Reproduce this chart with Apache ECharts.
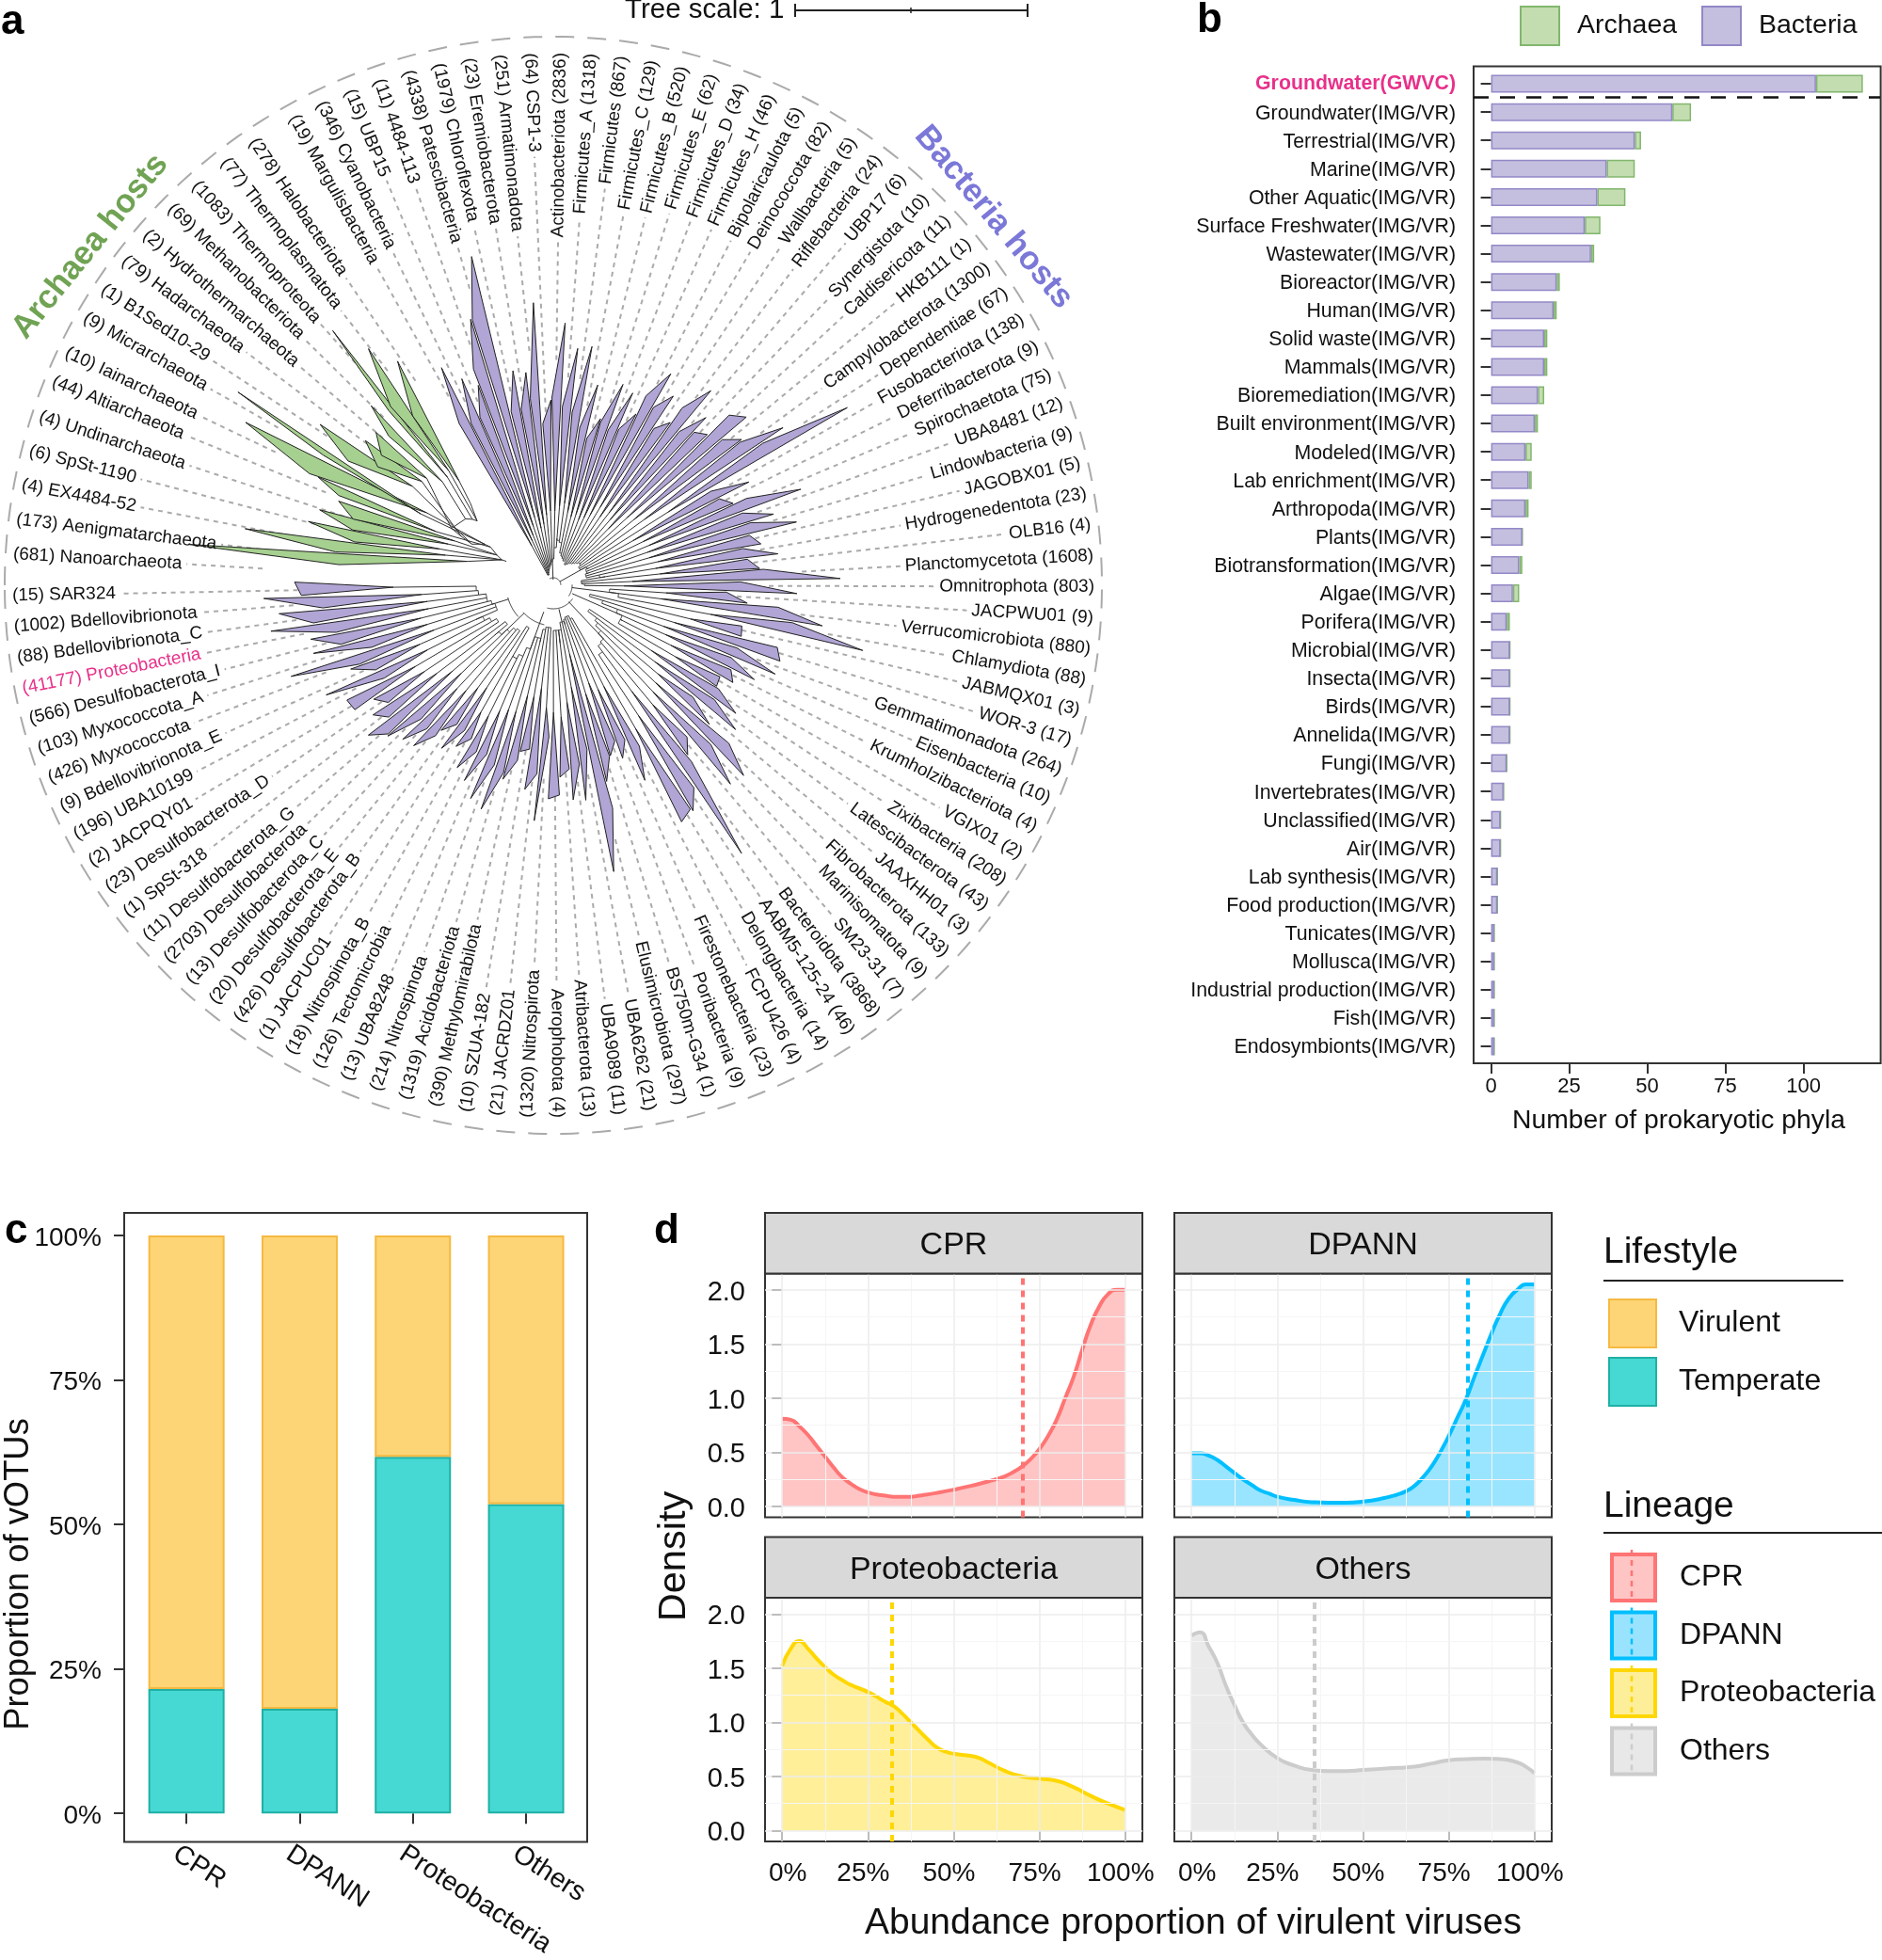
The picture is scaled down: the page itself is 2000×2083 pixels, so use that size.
<!DOCTYPE html>
<html><head><meta charset="utf-8"><style>html,body{margin:0;padding:0;background:#fff}#c{width:2000px;height:2083px}</style>
<script src="https://cdn.jsdelivr.net/npm/echarts@6/dist/echarts.min.js"></script></head><body><div id="c"></div>
<script>
// ---------- panel a: phyla, clockwise from the left edge ----------
const archaeaNames=['Nanoarchaeota','Aenigmatarchaeota','EX4484-52','SpSt-1190','Undinarchaeota','Altiarchaeota','Iainarchaeota','Micrarchaeota','B1Sed10-29','Hadarchaeota','Hydrothermarchaeota','Methanobacteriota','Thermoproteota','Thermoplasmatota','Halobacteriota'];
const archaeaCounts=[681,173,4,6,4,44,10,9,1,79,2,69,1083,77,278];
const archaeaLeafAngle=[3.3,7,10.7,14.4,18.2,22.2,25.6,29.8,33.4,37.2,40.8,44.7,48.3,52.3,56];
const archaeaTipR=[390,333,269,261,245,275,370,393,301,252,249,272,358,319,290];
const archaeaTipA=[6.4,10.4,14.6,17.9,21.4,24.7,27.9,31.5,34.6,37.6,40.8,44.6,49.1,52,55.2];
const archaeaShoulderR=[229,234,216,221,224,247,285,281,255,225,229,236,255,257,234];
const archaeaShoulderA=[5.5,8.7,12.3,15.4,18.3,22.7,24.6,29.5,31.2,34,37.1,42.2,46.7,47.7,50.3];
const archaeaApexR=[95,119,127,120,115,137,155,160,183,178,176,161,161,165,149];
const archaeaApexA=[15.5,15.6,17.7,21.4,24.2,24.6,29.8,28.3,35.1,38.3,40.2,43,45.6,47.6,47.9];
const archaeaNodeR=[61,61,61,68,68,78,85,85,97,111,124,117,111,106,124];
const archaeaNodeA=[26.3,26.3,26.3,28.2,28.2,31.3,30.9,30.9,26.8,28,29.2,37.1,39.2,40.2,44.7];
const bacteriaNames=['Margulisbacteria','Cyanobacteria','UBP15','4484-113','Patescibacteria','Chloroflexota','Eremiobacterota','Armatimonadota','CSP1-3','Actinobacteriota',
'Firmicutes_A','Firmicutes','Firmicutes_C','Firmicutes_B','Firmicutes_E','Firmicutes_D','Firmicutes_H','Bipolaricaulota','Deinococcota','Wallbacteria',
'Riflebacteria','UBP17','Synergistota','Caldisericota','HKB111','Campylobacterota','Dependentiae','Fusobacteriota','Deferribacterota','Spirochaetota',
'UBA8481','Lindowbacteria','JAGOBX01','Hydrogenedentota','OLB16','Planctomycetota','Omnitrophota','JACPWU01','Verrucomicrobiota','Chlamydiota',
'JABMQX01','WOR-3','Gemmatimonadota','Eisenbacteria','Krumholzibacteriota','VGIX01','Zixibacteria','Latescibacterota','JAAXHH01','Fibrobacterota',
'Marinisomatota','SM23-31','Bacteroidota','AABM5-125-24','Delongbacteria','FCPU426','Firestonebacteria','Poribacteria','BS750m-G34','Elusimicrobiota',
'UBA6262','UBA9089','Atribacterota','Aerophobota','Nitrospirota','JACRDZ01','SZUA-182','Methylomirabilota','Acidobacteriota','Nitrospinota',
'UBA8248','Tectomicrobia','Nitrospinota_B','JACPUC01','Desulfobacterota_B','Desulfobacterota_E','Desulfobacterota_C','Desulfobacterota','Desulfobacterota_G','SpSt-318',
'Desulfobacterota_D','JACPQY01','UBA10199','Bdellovibrionota_E','Myxococcota','Myxococcota_A','Desulfobacterota_I','Proteobacteria','Bdellovibrionota_C','Bdellovibrionota','SAR324'];
const bacteriaCounts=[19,346,15,11,4338,1979,23,251,64,2836,
1318,867,129,520,62,34,46,5,82,5,
24,6,10,11,1,1300,67,138,9,75,
12,9,5,23,4,1608,803,9,880,88,
3,17,264,10,4,2,208,43,3,133,
9,7,3868,46,14,4,23,9,1,297,
21,11,13,4,1320,21,10,390,1319,214,
13,126,18,1,426,20,13,2703,11,1,
23,2,196,9,426,103,566,41177,88,1002,15];
const bacteriaTipR=[260,240,227,296,360,232,228,301,197,279,
253,257,218,184,226,221,202,257,238,213,
266,241,229,272,253,296,365,235,210,282,
246,267,225,241,220,305,259,207,289,336,
207,254,254,236,217,204,237,247,222,286,
283,230,348,282,286,229,198,191,216,311,
231,229,204,227,251,219,180,213,250,243,
228,219,200,210,195,226,229,238,253,236,
226,251,268,233,295,265,264,304,293,308,275];
const bacteriaShoulderR=[199,193,195,245,295,190,190,200,172,200,
190,185,170,160,180,175,180,224,217,198,
233,211,221,260,237,250,269,195,199,225,
215,220,215,205,208,224,199,184,240,257,
205,247,206,204,209,202,207,210,190,251,
238,215,238,262,279,194,181,178,191,245,
178,192,196,223,161,201,176,190,206,201,
193,195,185,181,180,203,203,200,236,224,
215,249,205,209,222,204,234,236,258,246,268];
const bacteriaApexR=[48,52,57,66,75,62,66,75,79,79,
84,88,79,75,79,75,79,84,97,88,
97,92,84,106,110,119,145,97,106,110,
106,106,114,110,114,84,75,120,115,170,
150,135,125,130,140,150,125,135,145,150,
155,165,140,165,175,120,120,110,120,75,
110,125,140,135,130,110,120,120,140,140,
145,155,155,130,135,145,150,135,140,155,
165,170,150,155,135,140,145,135,135,140,170];
const bacteriaNodeR=[12,12,14,16,18,20,22,25,28,40,
50,48,46,35,32,30,28,25,27,29,
30,32,34,36,38,36,33,40,42,38,
40,36,50,56,30,33,40,60,70,88,
40,55,73,80,82,80,46,58,62,70,
78,80,88,97,95,40,36,38,44,40,
48,62,48,55,71,45,48,62,58,72,
82,87,88,52,60,62,68,76,82,64,
70,76,82,90,65,68,72,72,80,82,96];
// [first clade, last clade, radius of the trunk root] for each bacterial sub-tree
const bacteriaClades=[[0,16,6],[17,36,8],[37,39,20],[40,45,22],[46,53,24],[54,63,26],[64,73,30],[74,79,43],[80,90,50]];
const coreArcs=[[8,60,178],[20,178,215],[25,215,285],[43,283,318],[50,318,345]];
const bacteriaFirstLeaf=61, bacteriaLeafStep=3.31;
// ---------- panel b ----------
const habitats=['Groundwater(GWVC)','Groundwater(IMG/VR)','Terrestrial(IMG/VR)','Marine(IMG/VR)','Other Aquatic(IMG/VR)','Surface Freshwater(IMG/VR)','Wastewater(IMG/VR)','Bioreactor(IMG/VR)','Human(IMG/VR)','Solid waste(IMG/VR)','Mammals(IMG/VR)','Bioremediation(IMG/VR)','Built environment(IMG/VR)','Modeled(IMG/VR)','Lab enrichment(IMG/VR)','Arthropoda(IMG/VR)','Plants(IMG/VR)','Biotransformation(IMG/VR)','Algae(IMG/VR)','Porifera(IMG/VR)','Microbial(IMG/VR)','Insecta(IMG/VR)','Birds(IMG/VR)','Annelida(IMG/VR)','Fungi(IMG/VR)','Invertebrates(IMG/VR)','Unclassified(IMG/VR)','Air(IMG/VR)','Lab synthesis(IMG/VR)','Food production(IMG/VR)','Tunicates(IMG/VR)','Mollusca(IMG/VR)','Industrial production(IMG/VR)','Fish(IMG/VR)','Endosymbionts(IMG/VR)'];
const habitatBacteria=[104,58,46,37,34,30,32,21,20,17,17,15,14,11,12,11,10,9,7,5,6,6,6,6,5,4,3,3,2,2,1,1,1,1,1];
const habitatArchaea=[15,6,2,9,9,5,1,1,1,1,1,2,1,2,1,1,0,1,2,1,0,0,0,0,0,0,0,0,0,0,0,0,0,0,0];
const phylaTicks=[0,25,50,75,100];
// ---------- panel c ----------
const lineages=['CPR','DPANN','Proteobacteria','Others'];
const temperateShare=[21.5,18.1,61.7,53.5];
const virulentShare=[78.5,81.9,38.3,46.5];
// ---------- panel d ----------
const densityCPR=[[0,.81],[2.5,.8],[5,.74],[7.5,.66],[10,.56],[12.5,.46],[15,.36],[17.5,.27],[20,.21],[22.5,.16],[25,.13],[27.5,.11],[30,.1],[32.5,.09],[35,.09],[37.5,.09],[40,.1],[45,.125],[50,.155],[55,.19],[60,.23],[65,.28],[67.5,.32],[70,.37],[72.5,.44],[75,.53],[77.5,.65],[80,.8],[82.5,1],[85,1.2],[87.5,1.45],[90,1.68],[92.5,1.85],[95,1.96],[97.5,2],[100,2]];
const densityDPANN=[[0,.49],[2.5,.49],[5,.47],[7.5,.43],[10,.37],[12.5,.31],[15,.25],[17.5,.2],[20,.15],[22.5,.12],[25,.09],[30,.06],[35,.04],[40,.035],[45,.035],[50,.045],[55,.07],[60,.11],[62.5,.14],[65,.19],[67.5,.27],[70,.37],[72.5,.5],[75,.65],[77.5,.82],[80,.99],[82.5,1.2],[85,1.4],[87.5,1.6],[90,1.78],[92.5,1.92],[95,2],[97.5,2.05],[100,2.05]];
const densityProteo=[[0,1.52],[2.5,1.68],[5,1.75],[7.5,1.68],[10,1.59],[12.5,1.51],[15,1.44],[17.5,1.39],[20,1.345],[25,1.28],[30,1.19],[32.5,1.15],[35,1.08],[37.5,1],[40,.92],[42.5,.84],[45,.77],[47.5,.73],[50,.71],[55,.69],[57.5,.67],[60,.63],[65,.55],[70,.5],[75,.48],[80,.46],[85,.4],[90,.32],[95,.25],[100,.19]];
const densityOthers=[[0,1.8],[2.5,1.83],[5,1.7],[7.5,1.55],[10,1.34],[12.5,1.16],[15,1],[17.5,.89],[20,.8],[25,.67],[30,.6],[35,.56],[40,.55],[45,.55],[50,.56],[55,.57],[60,.58],[65,.59],[70,.62],[75,.65],[80,.66],[85,.665],[90,.66],[95,.63],[97.5,.59],[100,.53]];
const densityMeans=[70.2,80.4,32.1,35.7];
const percentTicks=[0,25,50,75,100], percentMinor=[12.5,37.5,62.5,87.5];
const densityTicks=[0,.5,1,1.5,2], densityMinor=[.25,.75,1.25,1.75];

// ---------- styling and layout ----------
const FONT='"Liberation Sans",Arial,sans-serif', INK='#111', AXIS='#333';
const PURPLE='#B1A5D5', GREEN='#A6D08F', PINK='#E8308A';
const C={x:588,y:622};
function txt(text,x,y,size,o){o=o||{};return {type:'text',x,y,rotation:(o.rot||0)*Math.PI/180,z:50,silent:true,
 style:{text,fontSize:size,fontFamily:FONT,fontWeight:o.w||'normal',fill:o.c||INK,align:o.a||'left',verticalAlign:'middle',textAlign:o.a||'left',textVerticalAlign:'middle'}};}
function rect(x,y,w,h,fill,stroke,lw,z){return {type:'rect',shape:{x,y,width:w,height:h},z:z==null?40:z,silent:true,style:{fill,stroke,lineWidth:lw}};}
function seg(x1,y1,x2,y2,c,lw,dash,z){return {type:'line',shape:{x1,y1,x2,y2},z:z==null?40:z,silent:true,style:{stroke:c,lineWidth:lw,lineDash:dash||null}};}

const ctx=document.createElement('canvas').getContext('2d');ctx.font='19px "Liberation Sans"';
const leaves=[];
archaeaNames.forEach((n,i)=>leaves.push({n,c:archaeaCounts[i],a:archaeaLeafAngle[i],tipR:archaeaTipR[i],tipA:archaeaTipA[i],shR:archaeaShoulderR[i],shA:archaeaShoulderA[i],apR:archaeaApexR[i],apA:archaeaApexA[i],noR:archaeaNodeR[i],noA:archaeaNodeA[i],col:GREEN}));
bacteriaNames.forEach((n,j)=>{const a=bacteriaFirstLeaf+bacteriaLeafStep*j;leaves.push({n,c:bacteriaCounts[j],a,tipR:bacteriaTipR[j],tipA:a+1.8,shR:bacteriaShoulderR[j],shA:a-1.2,apR:bacteriaApexR[j],apA:a+.4,noR:bacteriaNodeR[j],noA:a+.4,col:PURPLE});});
leaves.forEach(l=>{l.flip=l.a>=90&&l.a<=271;l.text=l.flip?`${l.n} (${l.c})`:`(${l.c}) ${l.n}`;
 const rad=l.a*Math.PI/180;l.labR=566+9*Math.abs(Math.cos(rad));l.w=ctx.measureText(l.text).width;});
const leafRows=leaves.map(l=>[l.tipR,l.tipA]);
function arc(api,r,a1,a2){const pts=[];const n=Math.max(2,Math.ceil(Math.abs(a2-a1)));for(let k=0;k<=n;k++)pts.push(api.coord([r,a1+(a2-a1)*k/n]));return pts;}
const custom=(name,data,z,renderItem)=>({type:'custom',name,coordinateSystem:'polar',polarIndex:0,data,z,clip:false,silent:true,renderItem,animation:false});
const series=[];
series.push(custom('Outer ring',[[583,0]],1,(p,api)=>({type:'polyline',shape:{points:arc(api,583,0,360)},style:{stroke:'#aaa',fill:null,lineWidth:2,lineDash:[20,14]}})));
series.push(custom('Leaders',leafRows,2,(p,api)=>{const l=leaves[p.dataIndex];const r0=(l.tipR+l.shR)/2,r1=l.labR-l.w-5;const A=api.coord([r0,l.a]),B=api.coord([r1,l.a]);
 return {type:'line',shape:{x1:A[0],y1:A[1],x2:B[0],y2:B[1]},style:{stroke:'#aaa',lineWidth:2,lineDash:[5,5]}};}));
series.push(custom('Tree branches',leafRows,3,(p,api)=>{const i=p.dataIndex,l=leaves[i];const lineStyle={stroke:'#333',lineWidth:1,fill:null};const children=[];
 const N=api.coord([l.noR,l.noA]),Ap=api.coord([l.apR,l.apA]);
 children.push({type:'line',shape:{x1:N[0],y1:N[1],x2:Ap[0],y2:Ap[1]},style:lineStyle});
 if(i<archaeaNames.length){const P=i==0?api.coord([56,27]):api.coord([leaves[i-1].noR,leaves[i-1].noA]);children.push({type:'line',shape:{x1:P[0],y1:P[1],x2:N[0],y2:N[1]},style:lineStyle});}
 else{const j=i-archaeaNames.length;const cl=bacteriaClades.find(g=>j>=g[0]&&j<=g[1]);
  if(j<cl[1]){const m=leaves[i+1];const r=Math.min(l.noR,m.noR);children.push({type:'polyline',shape:{points:arc(api,r,l.noA,m.noA)},style:lineStyle});
   const Q=api.coord([r,l.noA]);children.push({type:'line',shape:{x1:Q[0],y1:Q[1],x2:N[0],y2:N[1]},style:lineStyle});const Q2=api.coord([r,m.noA]);const N2=api.coord([m.noR,m.noA]);children.push({type:'line',shape:{x1:Q2[0],y1:Q2[1],x2:N2[0],y2:N2[1]},style:lineStyle});}
  if(j==Math.round((cl[0]+cl[1])/2)){const R=api.coord([cl[2],l.noA]);children.push({type:'line',shape:{x1:R[0],y1:R[1],x2:N[0],y2:N[1]},style:lineStyle});}
 }
 return {type:'group',children};}));
series.push(custom('Tree core',coreArcs.map(c=>[c[0],c[1]]),3,(p,api)=>{const c=coreArcs[p.dataIndex];return {type:'polyline',shape:{points:arc(api,c[0],c[1],c[2])},style:{stroke:'#333',lineWidth:1,fill:null}};}));
series.push(custom('Collapsed clades',leafRows,4,(p,api)=>{const l=leaves[p.dataIndex];
 return {type:'polygon',shape:{points:[api.coord([l.apR,l.apA]),api.coord([l.shR,l.shA]),api.coord([api.value(0),api.value(1)])]},style:{fill:l.col,stroke:'#222',lineWidth:1}};}));
series.push(custom('Phylum labels',leafRows,5,(p,api)=>{const l=leaves[p.dataIndex];const P=api.coord([l.labR,l.a]);
 let rot=l.flip?(180-l.a):-l.a;
 return {type:'text',x:P[0],y:P[1],rotation:rot*Math.PI/180,style:{text:l.text,fontSize:19,fontFamily:FONT,fill:l.n=='Proteobacteria'?PINK:INK,align:l.flip?'right':'left',verticalAlign:'middle',textAlign:l.flip?'right':'left',textVerticalAlign:'middle'}};}));

// panel b series
series.push({type:'bar',name:'Bacteria',xAxisIndex:0,yAxisIndex:0,stack:'b',data:habitatBacteria,barWidth:19,itemStyle:{color:'#C5BFDF',borderColor:'#9388C7',borderWidth:1.5},animation:false,z:3});
series.push({type:'bar',name:'Archaea',xAxisIndex:0,yAxisIndex:0,stack:'b',data:habitatArchaea,barWidth:19,itemStyle:{color:'#C3DDB0',borderColor:'#82B66E',borderWidth:1.5},animation:false,z:2});
// panel c series
series.push({type:'bar',name:'Temperate',xAxisIndex:1,yAxisIndex:1,stack:'c',data:temperateShare,barWidth:81,itemStyle:{color:'#46D8D3',borderColor:'#1FB0A5',borderWidth:2},animation:false});
series.push({type:'bar',name:'Virulent',xAxisIndex:1,yAxisIndex:1,stack:'c',data:virulentShare,barWidth:81,itemStyle:{color:'#FED576',borderColor:'#F5B942',borderWidth:2},animation:false});
// panel d series
const panels=[
 {name:'CPR',d:densityCPR,line:'#FF7474',fill:'#FFC4C4',l:813,t:1353.5,strip:1289,op:'rgba(255,116,116,.42)'},
 {name:'DPANN',d:densityDPANN,line:'#00BFFF',fill:'#9AE3FF',l:1248,t:1353.5,strip:1289,op:'rgba(0,191,255,.4)'},
 {name:'Proteobacteria',d:densityProteo,line:'#FFD700',fill:'#FDEE9A',l:813,t:1698,strip:1633.5,op:'rgba(255,215,0,.4)'},
 {name:'Others',d:densityOthers,line:'#CCCCCC',fill:'#E8E8E8',l:1248,t:1698,strip:1633.5,op:'rgba(204,204,204,.42)'}];
const PW=401,PH=259;
const grids=[{left:1566,top:74,width:432.6,height:1053,show:false},{left:138,top:1313,width:481.2,height:616,show:false}];
const xAxes=[
 {gridIndex:0,type:'value',min:-5.6,max:124.7,position:'bottom',offset:3,splitLine:{show:false},axisLine:{show:false},axisTick:{show:true,length:11,customValues:phylaTicks,lineStyle:{color:AXIS,width:2}},axisLabel:{customValues:phylaTicks,fontSize:22,fontFamily:FONT,color:INK,margin:14}},
 {gridIndex:1,type:'category',data:lineages,offset:28.4,axisLine:{show:false},axisTick:{show:true,alignWithLabel:true,length:11,lineStyle:{color:AXIS,width:2}},axisLabel:{interval:0,rotate:-33,fontSize:28.6,fontFamily:FONT,color:INK,margin:20,align:'left',verticalAlign:'middle',padding:[0,0,0,-14]}}];
const yAxes=[
 {gridIndex:0,type:'category',inverse:true,data:habitats.map((h,i)=>i==0?{value:h,textStyle:{color:PINK,fontWeight:'bold'}}:h),axisLine:{show:false},axisTick:{show:true,alignWithLabel:true,length:11,lineStyle:{color:AXIS,width:2}},axisLabel:{interval:0,fontSize:21.3,fontFamily:FONT,color:INK,margin:19,verticalAlign:'top',padding:[-9,0,0,0]}},
 {gridIndex:1,type:'value',min:0,max:100,interval:25,offset:6,splitLine:{show:false},axisLine:{show:false},axisTick:{show:true,length:11,lineStyle:{color:AXIS,width:2}},axisLabel:{formatter:'{value}%',fontSize:28,fontFamily:FONT,color:INK,margin:24,verticalAlign:'top',padding:[-11,0,0,0]}}];
const graphicEls=[
 txt('a',1,24,44,{w:'bold',c:'#000'}),txt('b',1272,22,44,{w:'bold',c:'#000'}),txt('c',5,1309,44,{w:'bold',c:'#000'}),txt('d',695,1309,44,{w:'bold',c:'#000'}),
 txt('Tree scale: 1',664,11,29.5),
 seg(845,11,1092,11,'#222',2),seg(845,4,845,18,'#222',2),seg(1092,4,1092,18,'#222',2),seg(968,8,968,14,'#222',1.5),
 txt('Archaea hosts',96,262,35,{w:'bold',c:'#70A354',a:'center',rot:51}),
 txt('Bacteria hosts',1056,231,35,{w:'bold',c:'#7B78D8',a:'center',rot:-50}),
 rect(1566,70.4,432.6,1059.6,null,AXIS,2),
 seg(1566,103.6,1998,103.6,'#111',2.5,[16,12]),
 txt('Number of prokaryotic phyla',1784,1191.5,28.3,{a:'center'}),
 rect(132,1289,492,668.4,null,AXIS,2),
 txt('Proportion of vOTUs',20,1673,36.4,{a:'center',rot:90}),
 txt('Density',717,1654,41.5,{a:'center',rot:90}),
 txt('Abundance proportion of virulent viruses',1268,2044.5,39,{a:'center'}),
 txt('Lifestyle',1704,1331,39),seg(1704,1361,1959,1361,'#222',2),
 txt('Lineage',1704,1601,39),seg(1704,1629,2000,1629,'#222',2)];
panels.forEach((p,i)=>{
 const gi=i+2;
 grids.push({left:p.l,top:p.t,width:PW,height:PH,show:true,borderColor:AXIS,borderWidth:2,backgroundColor:'#fff'});
 xAxes.push({gridIndex:gi,type:'value',min:-5,max:105,splitLine:{show:false},axisLine:{show:false},
  axisTick:{show:i>=2,length:11,customValues:percentTicks,lineStyle:{color:AXIS,width:2}},
  axisLabel:{show:i>=2,customValues:percentTicks,formatter:v=>v==0?'{z|0%}':`{p|${v}%}`,color:INK,margin:20,hideOverlap:false,
   rich:{z:{fontSize:28,fontFamily:FONT,color:INK,padding:[0,0,0,12]},p:{fontSize:28,fontFamily:FONT,color:INK,padding:[0,10,0,0]}}}});
 yAxes.push({gridIndex:gi,type:'value',min:-.1,max:2.15,splitLine:{show:false},axisLine:{show:false},
  axisTick:{show:i%2==0,length:11,customValues:densityTicks,lineStyle:{color:AXIS,width:2}},
  axisLabel:{show:i%2==0,customValues:densityTicks,formatter:v=>v.toFixed(1),fontSize:29,fontFamily:FONT,color:INK,margin:21,verticalAlign:'top',padding:[-11.5,0,0,0]}});
 const major={color:'#EDEDED',width:1.5,type:'solid'},minor={color:'#F5F5F5',width:1,type:'solid'};
 const gl=[];percentTicks.forEach(v=>gl.push({xAxis:v,lineStyle:major}));percentMinor.forEach(v=>gl.push({xAxis:v,lineStyle:minor}));densityTicks.forEach(v=>gl.push({yAxis:v,lineStyle:major}));densityMinor.forEach(v=>gl.push({yAxis:v,lineStyle:minor}));
 series.push({type:'line',name:'grid'+i,xAxisIndex:gi,yAxisIndex:gi,data:[[0,0]],showSymbol:false,lineStyle:{width:0},z:1,silent:true,animation:false,
  markLine:{silent:true,symbol:'none',label:{show:false},animation:false,data:gl}});
 series.push({type:'line',name:p.name,xAxisIndex:gi,yAxisIndex:gi,data:p.d,smooth:.55,showSymbol:false,z:3,animation:false,silent:true,
  lineStyle:{color:p.line,width:4},itemStyle:{color:p.fill,borderColor:p.line,borderWidth:4},areaStyle:{color:p.op,opacity:1,origin:0},
  markLine:{silent:true,symbol:'none',label:{show:false},animation:false,lineStyle:{color:p.line,type:[7,6],width:4},data:[{xAxis:densityMeans[i]}]}});
 graphicEls.push(rect(p.l,p.strip,PW,p.t-p.strip,'#D9D9D9',AXIS,2));
 graphicEls.push(txt(p.name,p.l+PW/2,(p.strip+p.t)/2+2.5,34,{a:'center'}));
 // dashed mark on the lineage key swatch
 const ky=1648+i*61.5;graphicEls.push(seg(1734,ky-1,1734,ky+53,p.line,2.5,[6,5],45));
});
const legendText=(s,pad)=>({fontSize:s,fontFamily:FONT,color:INK,padding:[4,0,0,pad]});
const option={animation:false,backgroundColor:'#fff',textStyle:{fontFamily:FONT},
 polar:{center:[C.x,C.y],radius:600},
 angleAxis:{show:false,type:'value',min:0,max:360,startAngle:180,clockwise:true},
 radiusAxis:{show:false,type:'value',min:0,max:600},
 grid:grids,xAxis:xAxes,yAxis:yAxes,series,
 legend:[
  {data:[{name:'Archaea',icon:'rect'}],left:1615,top:6,padding:0,itemWidth:41,itemHeight:41,selectedMode:false,textStyle:legendText(28.5,14)},
  {data:[{name:'Bacteria',icon:'rect'}],left:1808,top:6,padding:0,itemWidth:41,itemHeight:41,selectedMode:false,textStyle:legendText(28.5,14)},
  {data:[{name:'Virulent',icon:'rect'},{name:'Temperate',icon:'rect'}],orient:'vertical',left:1709,top:1380,padding:0,itemWidth:50,itemHeight:51,itemGap:9,selectedMode:false,textStyle:legendText(32,19)},
  {data:panels.map(p=>({name:p.name,icon:'rect',itemStyle:{color:p.fill,borderColor:p.line,borderWidth:4}})),orient:'vertical',left:1711,top:1650,padding:0,itemWidth:46,itemHeight:49,itemGap:8.5,selectedMode:false,textStyle:legendText(32,21)}
 ],
 graphic:{elements:graphicEls}};
echarts.init(document.getElementById('c'),null,{renderer:'canvas'}).setOption(option);
</script></body></html>
